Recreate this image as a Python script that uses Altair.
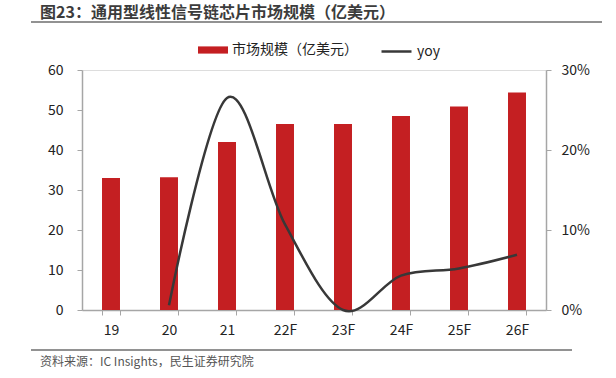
import altair as alt
import pandas as pd

categories = ["19", "20", "21", "22F", "23F", "24F", "25F", "26F"]
market = [33.0, 33.2, 42.0, 46.5, 46.5, 48.5, 50.9, 54.4]
yoy_cats = ["20", "21", "22F", "23F", "24F", "25F", "26F"]
yoy = [0.006, 0.265, 0.107, 0.0, 0.043, 0.052, 0.069]

bar_label = "市场规模（亿美元）"
line_label = "yoy"
title_text = "图23：通用型线性信号链芯片市场规模（亿美元）"
source_text = "资料来源：IC Insights，民生证券研究院"

bars_df = pd.DataFrame({"cat": categories, "v": market, "s": bar_label})
line_df = pd.DataFrame({"cat": yoy_cats, "v": yoy, "s": line_label})

FONT = "Noto Sans CJK SC"
RED = "#C41F22"
LINE = "#383838"
AX = "#A6A6A6"

W, H = 464, 240
L, T = 82, 70

xenc = alt.X("cat:N", sort=categories, title=None,
             scale=alt.Scale(paddingInner=0.69, paddingOuter=0.345),
             axis=alt.Axis(labelAngle=0, tickBand="extent", domainColor=AX, tickColor=AX,
                           tickSize=5, labelPadding=8, labelFontSize=14, labelColor="#222",
                           labelFont=FONT, domainWidth=1.5))

bars = alt.Chart(bars_df).mark_bar(color=RED).encode(
    x=xenc,
    y=alt.Y("v:Q", title=None,
            scale=alt.Scale(domain=[0, 60]),
            axis=alt.Axis(values=[0, 10, 20, 30, 40, 50, 60], grid=False, domainColor=AX,
                          tickColor=AX, tickSize=5, labelPadding=14, labelFontSize=14,
                          labelColor="#222", labelFont=FONT, domainWidth=1.5)),
    fill=alt.Fill("s:N", scale=alt.Scale(domain=[bar_label], range=[RED]),
                  legend=alt.Legend(title=None, orient="none", legendX=198 - L, legendY=49 - T - 14,
                                    symbolType="M-1,-0.24H1V0.24H-1Z", symbolSize=900,
                                    symbolStrokeWidth=0, labelFontSize=14, labelFont=FONT,
                                    labelColor="#222", labelOffset=4)),
)

line = alt.Chart(line_df).mark_line(interpolate="cardinal", strokeWidth=2.5).encode(
    x=alt.X("cat:N", sort=categories),
    y=alt.Y("v:Q", title=None,
            scale=alt.Scale(domain=[0, 0.3]),
            axis=alt.Axis(orient="right", values=[0, 0.1, 0.2, 0.3], format=".0%", grid=False,
                          domainColor=AX, tickColor=AX, tickSize=5, labelPadding=10,
                          labelFontSize=14, labelColor="#222", labelFont=FONT, domainWidth=1.5)),
    stroke=alt.Stroke("s:N", scale=alt.Scale(domain=[line_label], range=[LINE]),
                      legend=alt.Legend(title=None, orient="none", legendX=380 - L, legendY=49 - T - 14,
                                        symbolType="stroke", symbolSize=900, symbolStrokeWidth=2.5,
                                        labelFontSize=14, labelFont=FONT, labelColor="#222",
                                        labelOffset=4)),
)

deco_df = pd.DataFrame({"k": [0]})
title_mark = alt.Chart(deco_df).mark_text(
    text=title_text, font=FONT, fontSize=16, fontWeight="bold", color="#3c3c3c",
    align="left", baseline="middle").encode(x=alt.value(40 - L), y=alt.value(13 - T))
title_rule = alt.Chart(deco_df).mark_rule(color="#6e6e6e", strokeWidth=1.5).encode(
    x=alt.value(31 - L), x2=alt.value(602 - L), y=alt.value(22 - T))
bottom_rule = alt.Chart(deco_df).mark_rule(color="#6e6e6e", strokeWidth=1.5).encode(
    x=alt.value(31 - L), x2=alt.value(572 - L), y=alt.value(350 - T))
source_mark = alt.Chart(deco_df).mark_text(
    text=source_text, font=FONT, fontSize=12, color="#555",
    align="left", baseline="middle").encode(x=alt.value(40 - L), y=alt.value(362 - T))

chart = alt.layer(bars, line, title_mark, title_rule, bottom_rule, source_mark).resolve_scale(
    y="independent", fill="independent", stroke="independent"
).properties(
    width=W, height=H,
    autosize=alt.AutoSizeParams(type="none"),
    padding={"left": L, "top": T, "right": 616 - L - W, "bottom": 378 - T - H},
).configure_view(stroke=None).configure(background="white")

chart.save("out.html", embed_options={"renderer": "svg", "actions": False})
